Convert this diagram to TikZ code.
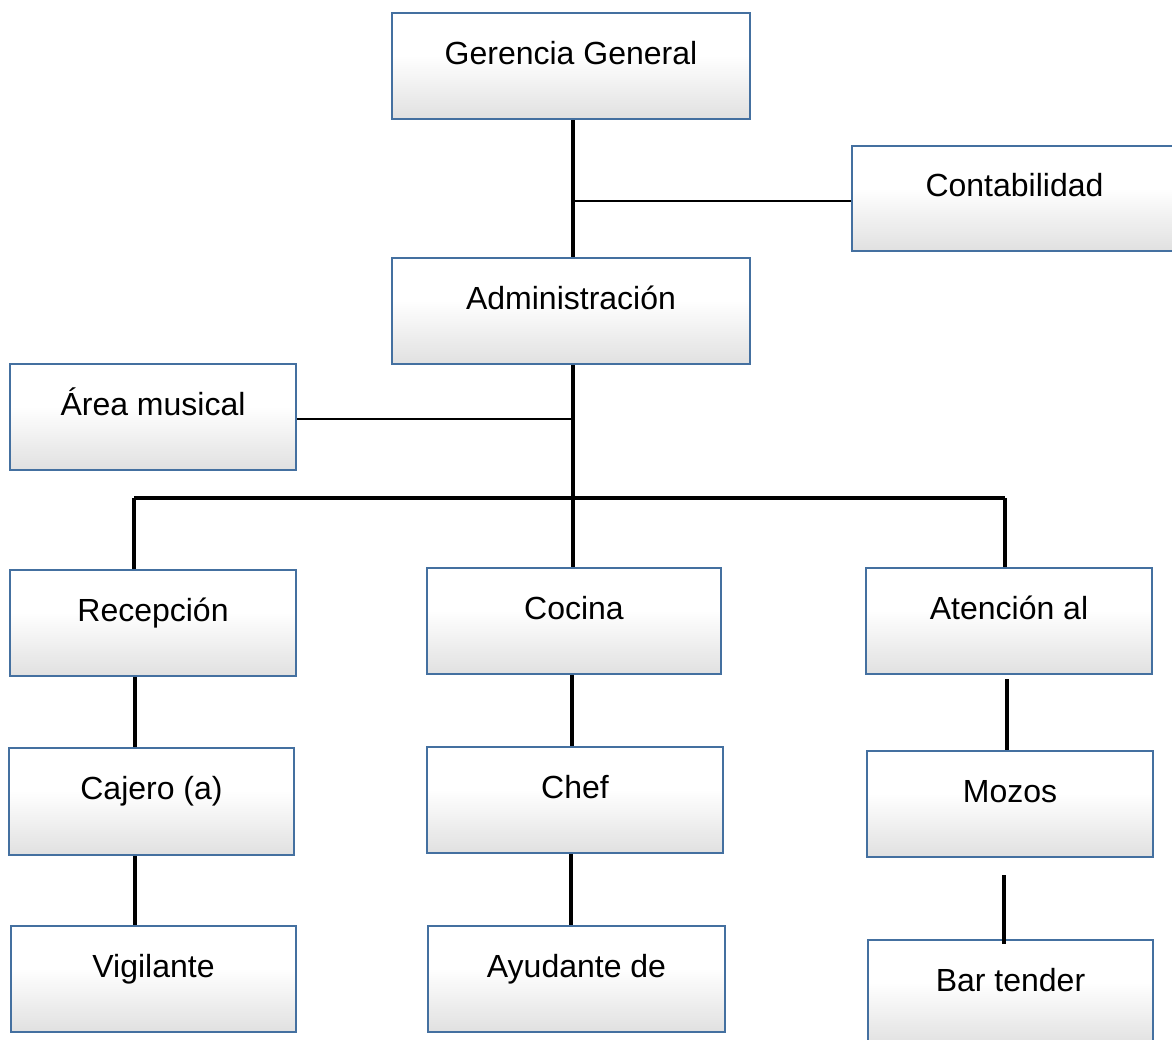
\documentclass[tikz,border=0pt]{standalone}
\usepackage{fontspec}
\setmainfont{Liberation Sans}
\definecolor{boxblue}{RGB}{68,112,160}
\definecolor{boxgray}{RGB}{205,205,205}
\pgfdeclareverticalshading{boxshade}{100bp}{color(0bp)=(boxgray); color(10bp)=(boxgray!92!white); color(55bp)=(white); color(100bp)=(white)}
\tikzset{
  orgbox/.style={rectangle, shading=boxshade, draw=boxblue, line width=2.2pt,
    minimum height=106pt, inner sep=0pt, font=\fontsize{32}{38}\selectfont,
    text height=23pt, text depth=26.5pt},
  thickc/.style={line width=3.8pt, black},
  thinc/.style={line width=1.4pt, black}
}
\begin{document}
\begin{tikzpicture}[x=1pt,y=-1pt]
\useasboundingbox (0,0) rectangle (1172,1040);
\fill[white] (0,0) rectangle (1172,1040);
\clip (0,0) rectangle (1172,1040);
% boxes
\node[orgbox, minimum width=358pt] (gg) at (571,66) {Gerencia General};
\node[orgbox, minimum width=325pt, minimum height=105pt] (cont) at (1014.5,198.5) {Contabilidad};
\node[orgbox, minimum width=358pt] (adm) at (571,311) {Administración};
\node[orgbox, minimum width=286pt] (area) at (153,417) {Área musical};
\node[orgbox, minimum width=286pt] (rec) at (153,623) {Recepción};
\node[orgbox, minimum width=294pt] (coc) at (574,621) {Cocina};
\node[orgbox, minimum width=286pt] (ate) at (1009,621) {Atención al};
\node[orgbox, minimum width=285pt, minimum height=107pt] (caj) at (151.5,801.5) {Cajero (a)};
\node[orgbox, minimum width=296pt] (chef) at (575,800) {Chef};
\node[orgbox, minimum width=286pt] (moz) at (1010,804) {Mozos};
\node[orgbox, minimum width=285pt] (vig) at (153.5,979) {Vigilante};
\node[orgbox, minimum width=297pt] (ayu) at (576.5,979) {Ayudante de};
\node[orgbox, minimum width=285pt] (bar) at (1010.5,993) {Bar tender};
% junction coordinates
\coordinate (j1) at (573,201);
\coordinate (bus) at (573,498);
\coordinate (bl) at (134,498);
\coordinate (br) at (1005,498);
% top trunk
\draw[thickc] ([xshift=2pt]gg.south) -- ([xshift=2pt]adm.north);
\draw[thinc] (j1) -- (j1 -| cont.west);
\draw[thickc] ([xshift=2pt]adm.south) -- ([xshift=-1pt]coc.north);
\draw[thinc] ([yshift=-2pt]area.east) -- ([yshift=-2pt]area.east -| bus);
% bus
\draw[thickc] (bl) -- (br);
\draw[thickc] (bl) -- (bl |- rec.north);
\draw[thickc] (br) -- (br |- ate.north);
% columns
\draw[thickc] ([xshift=-18pt]rec.south) -- ([xshift=-16.5pt]caj.north);
\draw[thickc] ([xshift=-16.5pt]caj.south) -- ([xshift=-18.5pt]vig.north);
\draw[thickc] ([xshift=-2pt]coc.south) -- ([xshift=-3pt]chef.north);
\draw[thickc] ([xshift=-4pt]chef.south) -- ([xshift=-5.5pt]ayu.north);
\draw[thickc] ([shift={(-2pt,-4pt)}]ate.south) -- ([xshift=-3pt]moz.north);
\draw[thickc] ([shift={(-6pt,-17pt)}]moz.south) -- ([shift={(-6.5pt,-5pt)}]bar.north);
\end{tikzpicture}
\end{document}
